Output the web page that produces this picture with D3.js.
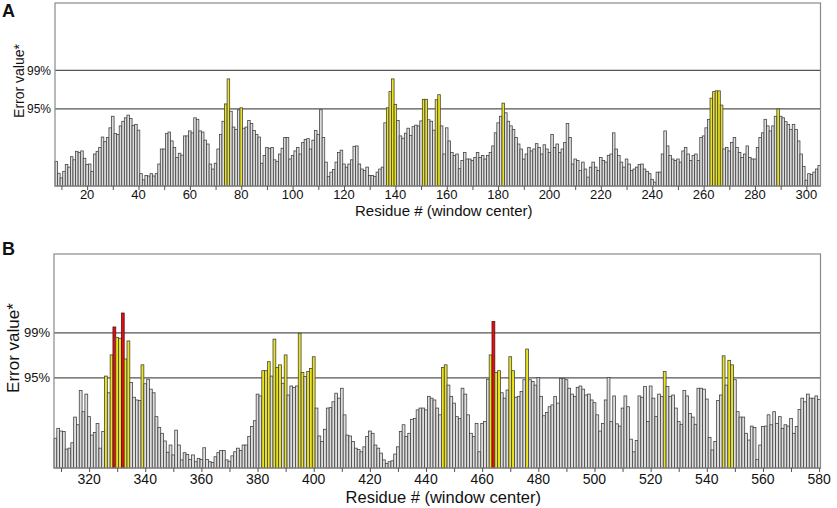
<!DOCTYPE html>
<html>
<head>
<meta charset="utf-8">
<script src="https://cdn.jsdelivr.net/npm/d3@7"></script>
<style>
  body { margin: 0; background: #fff; }
  svg { display: block; }
  text { font-family: Arial, "Liberation Sans", sans-serif; fill: #111; }
</style>
</head>
<body>
<div id="chart"></div>
<script>
// Panel A: residues 8..305, one bar per window centre
const startA = 8;
const valuesA = [
  0.64, 0.33, 0.21, 0.38, 0.56, 0.49, 0.76, 0.68, 0.90, 0.87, 0.91, 0.72, 0.56, 0.57, 0.38, 0.83, 0.90, 1.00, 1.27, 1.15, // 8-27
  1.26, 1.51, 1.81, 1.36, 1.34, 1.56, 1.68, 1.77, 1.84, 1.75, 1.57, 1.60, 1.45, 0.32, 0.16, 0.27, 0.26, 0.32, 0.26, 0.32, // 28-47
  0.57, 0.96, 0.96, 1.36, 1.40, 1.17, 1.00, 0.74, 0.85, 0.80, 1.30, 1.30, 1.43, 1.38, 1.77, 1.73, 1.43, 1.40, 1.19, 1.09, // 48-67
  0.57, 0.44, 0.59, 0.96, 1.34, 1.68, 2.13, 2.78, 1.94, 1.53, 1.47, 1.98, 2.03, 1.50, 1.53, 1.70, 1.62, 1.44, 1.34, 1.27, // 68-87
  0.59, 0.79, 1.00, 0.97, 1.00, 0.68, 0.64, 0.83, 0.98, 1.26, 1.26, 0.70, 0.79, 0.91, 1.00, 0.83, 1.13, 1.21, 1.23, 0.96, // 88-107
  1.19, 1.44, 1.34, 1.98, 1.26, 0.62, 0.25, 0.36, 0.43, 0.62, 0.87, 0.93, 0.57, 0.49, 0.57, 0.68, 1.03, 1.04, 0.57, 0.44, // 108-127
  0.40, 0.49, 0.27, 0.27, 0.25, 0.36, 0.44, 0.49, 1.64, 2.03, 2.45, 2.78, 2.12, 1.70, 1.30, 1.24, 1.37, 1.50, 1.31, 1.54, // 128-147
  1.58, 1.56, 1.69, 2.25, 2.25, 1.72, 1.68, 1.45, 2.24, 2.37, 1.56, 0.83, 1.51, 1.17, 0.87, 0.79, 0.83, 0.45, 0.66, 0.87, // 148-167
  0.70, 0.70, 0.66, 0.74, 0.87, 0.74, 0.79, 0.70, 0.79, 0.87, 1.04, 1.38, 1.64, 1.81, 2.15, 1.90, 1.68, 1.56, 1.47, 1.26, // 168-187
  1.09, 0.96, 0.70, 0.83, 1.00, 0.91, 0.96, 1.10, 1.00, 0.83, 1.07, 0.96, 0.87, 1.34, 1.00, 1.09, 0.87, 0.96, 1.13, 1.62, // 188-207
  1.26, 0.57, 0.70, 0.66, 0.40, 0.62, 0.44, 0.23, 0.49, 0.62, 0.49, 0.40, 0.74, 0.66, 0.62, 0.79, 0.83, 1.38, 0.96, 0.79, // 208-227
  0.62, 0.49, 0.70, 0.57, 0.40, 0.44, 0.49, 0.56, 0.57, 0.44, 0.38, 0.32, 0.17, 0.10, 0.36, 0.36, 0.83, 1.43, 1.04, 0.79, // 228-247
  0.70, 0.66, 0.70, 0.62, 0.91, 1.00, 0.83, 0.66, 0.79, 0.83, 0.66, 1.26, 1.30, 1.51, 1.73, 2.28, 2.45, 2.47, 2.47, 2.10, // 248-267
  0.96, 1.00, 0.91, 1.13, 1.26, 1.00, 0.87, 0.74, 0.83, 1.04, 0.74, 0.70, 0.70, 1.00, 1.26, 1.38, 1.73, 1.56, 1.43, 1.56, // 268-287
  1.81, 2.00, 1.81, 1.77, 1.67, 1.60, 1.47, 1.60, 1.47, 1.17, 0.83, 0.51, 0.15, 0.32, 0.30, 0.36, 0.44, 0.53            // 288-305
];
const yellowA = [74, 75, 80, 137, 138, 139, 140, 151, 152, 156, 157, 182, 263, 264, 265, 266, 267, 289];
const redA = [];
const ticksA = [20, 40, 60, 80, 100, 120, 140, 160, 180, 200, 220, 240, 260, 280, 300];

// Panel B: residues 308..580
const startB = 308;
const valuesB = [
  0.66, 0.88, 0.82, 0.81, 0.42, 0.44, 0.56, 1.13, 0.96, 1.72, 1.25, 1.64, 1.14, 0.73, 0.79, 0.99, 0.44, 0.81, 2.04, 1.67, // 308-327
  2.51, 3.13, 2.90, 2.88, 3.44, 2.42, 2.82, 1.90, 1.57, 1.51, 1.50, 2.29, 1.87, 1.97, 1.75, 1.67, 1.14, 0.90, 0.77, 0.60, // 328-347
  0.35, 0.51, 0.29, 0.84, 0.51, 0.18, 0.34, 0.30, 0.19, 0.29, 0.14, 0.21, 0.19, 0.45, 0.19, 0.14, 0.12, 0.25, 0.34, 0.39, // 348-367
  0.39, 0.18, 0.15, 0.27, 0.36, 0.44, 0.39, 0.51, 0.51, 0.70, 0.92, 1.05, 1.64, 1.60, 2.16, 2.16, 2.36, 2.04, 2.86, 2.23, // 368-387
  2.29, 1.88, 2.51, 1.62, 1.82, 1.79, 1.82, 2.99, 2.12, 2.03, 2.14, 2.21, 2.47, 1.33, 0.71, 0.59, 0.86, 1.33, 1.34, 1.47, // 388-407
  1.66, 1.55, 1.77, 1.18, 0.73, 0.71, 0.59, 0.44, 0.41, 0.36, 0.47, 0.70, 0.82, 0.77, 0.51, 0.44, 0.33, 0.18, 0.10, 0.14, // 408-427
  0.16, 0.31, 0.47, 0.81, 0.96, 0.70, 0.77, 1.08, 1.10, 1.29, 1.33, 1.33, 1.29, 1.59, 1.55, 1.51, 1.33, 1.18, 2.23, 2.29, // 428-447
  1.84, 1.59, 1.44, 1.14, 1.10, 1.77, 1.64, 1.18, 0.77, 0.70, 0.99, 0.36, 0.99, 1.03, 1.97, 2.51, 3.25, 2.12, 2.16, 1.67, // 448-467
  1.55, 1.73, 2.47, 2.16, 1.57, 1.59, 1.70, 1.96, 2.64, 1.96, 1.92, 1.84, 2.01, 1.59, 1.16, 1.23, 1.36, 1.40, 1.59, 1.44, // 468-487
  1.99, 1.99, 1.96, 1.77, 1.64, 1.59, 1.79, 1.82, 1.75, 1.62, 1.64, 1.51, 1.45, 1.18, 0.82, 0.99, 1.51, 2.01, 1.03, 1.60, // 488-507
  0.98, 0.93, 1.33, 1.60, 1.36, 0.64, 0.36, 0.61, 1.60, 1.57, 1.81, 1.03, 1.82, 1.55, 1.14, 1.64, 1.59, 2.14, 1.81, 1.59, // 508-527
  1.62, 1.33, 1.03, 0.97, 1.72, 1.60, 1.21, 1.13, 0.97, 1.77, 1.77, 1.75, 1.53, 0.68, 0.40, 0.59, 1.50, 1.62, 2.49, 1.84, // 528-547
  2.39, 2.29, 1.96, 1.25, 1.13, 1.13, 0.77, 0.62, 0.93, 0.90, 0.19, 0.51, 0.92, 0.93, 1.18, 0.96, 1.25, 0.99, 1.14, 0.88, // 548-567
  0.96, 0.93, 1.10, 0.77, 0.92, 1.30, 1.55, 1.47, 1.64, 1.55, 1.55, 1.60, 1.52                                          // 568-580
];
const yellowB = [326, 328, 330, 331, 333, 334, 339, 382, 383, 384, 386, 387, 388, 390, 395, 396, 398, 399, 400,
                 446, 447, 463, 465, 466, 470, 471, 476, 525, 546, 548, 549];
const redB = [329, 332, 464];
const ticksB = [320, 340, 360, 380, 400, 420, 440, 460, 480, 500, 520, 540, 560, 580];

// significance thresholds on the error-value axis
const thresholdValues = [2, 3];
const thresholdLabels = ["95%", "99%"];
const yMax = 4.75;

const svg = d3.select("#chart").append("svg")
  .attr("width", 837).attr("height", 508);

svg.append("rect").attr("width", 837).attr("height", 508).attr("fill", "#fff");

function drawPanel(opt) {
  const residues = d3.range(opt.start, opt.start + opt.values.length);
  const g = svg.append("g");

  const x = d3.scaleBand().domain(residues).range([opt.left, opt.right]).padding(0);
  const xLin = d3.scaleLinear()
    .domain([opt.start - 0.5, opt.start + opt.values.length - 0.5])
    .range([opt.left, opt.right]);
  const y = d3.scaleLinear().domain([0, yMax]).range([opt.bottom, opt.top]);

  // threshold lines
  g.selectAll("line.thr").data(thresholdValues).enter().append("line")
    .attr("x1", opt.left).attr("x2", opt.right)
    .attr("y1", d => y(d)).attr("y2", d => y(d))
    .attr("stroke", "#555").attr("stroke-width", 1.3);

  g.selectAll("text.thr").data(thresholdValues).enter().append("text")
    .attr("x", opt.left - 4).attr("y", d => y(d) + opt.thrSize * 0.35)
    .attr("text-anchor", "end")
    .style("font-size", opt.thrSize + "px")
    .text((d, i) => thresholdLabels[i]);

  // bars
  const fillOf = r => opt.red.includes(r) ? "#e40f14" : (opt.yellow.includes(r) ? "#ebe31c" : "#dedede");
  g.append("g").selectAll("rect").data(residues).enter().append("rect")
    .attr("x", r => x(r))
    .attr("width", x.bandwidth())
    .attr("y", (r, i) => y(opt.values[i]))
    .attr("height", (r, i) => y(0) - y(opt.values[i]))
    .attr("fill", fillOf)
    .attr("stroke", r => opt.red.includes(r) ? "#5a1010" : "#444")
    .attr("stroke-width", 0.8);

  // frame
  g.append("rect")
    .attr("x", opt.left).attr("y", opt.top)
    .attr("width", opt.right - opt.left).attr("height", opt.bottom - opt.top)
    .attr("fill", "none").attr("stroke", "#8a8a8a").attr("stroke-width", 1.2);

  // minor ticks every 10 residues, labels every 20
  const minor = d3.range(Math.ceil(opt.start / 10) * 10, opt.start + opt.values.length, 10);
  g.append("g")
    .attr("transform", "translate(0," + opt.bottom + ")")
    .call(d3.axisBottom(xLin).tickValues(minor).tickSize(4).tickFormat(""))
    .call(a => a.select(".domain").remove())
    .call(a => a.selectAll("line").attr("stroke", "#555"));

  g.selectAll("text.tick").data(opt.ticks).enter().append("text")
    .attr("x", d => xLin(d))
    .attr("y", opt.tickY)
    .attr("text-anchor", "middle")
    .style("font-size", opt.tickSize + "px")
    .text(d => d);

  g.append("text")
    .attr("x", (opt.left + opt.right) / 2 + 6)
    .attr("y", opt.titleY)
    .attr("text-anchor", "middle")
    .style("font-size", opt.titleSize + "px")
    .text("Residue # (window center)");

  g.append("text")
    .attr("transform", "translate(" + opt.yTitleX + "," + opt.yTitleY + ")rotate(-90)")
    .attr("text-anchor", "middle")
    .style("font-size", opt.yTitleSize + "px")
    .text("Error value*");

  g.append("text")
    .attr("x", 2).attr("y", opt.letterY)
    .style("font-size", "18px").style("font-weight", "bold")
    .text(opt.letter);
}

drawPanel({
  letter: "A", letterY: 17,
  start: startA, values: valuesA, yellow: yellowA, red: redA, ticks: ticksA,
  left: 55, right: 820.5, top: 3, bottom: 186,
  tickY: 199, tickSize: 13, titleY: 216, titleSize: 15,
  thrSize: 12, yTitleX: 24, yTitleY: 81, yTitleSize: 14
});

drawPanel({
  letter: "B", letterY: 255,
  start: startB, values: valuesB, yellow: yellowB, red: redB, ticks: ticksB,
  left: 54, right: 820.5, top: 254, bottom: 468,
  tickY: 484, tickSize: 14, titleY: 503, titleSize: 16.5,
  thrSize: 13, yTitleX: 19, yTitleY: 348, yTitleSize: 17
});
</script>
</body>
</html>
